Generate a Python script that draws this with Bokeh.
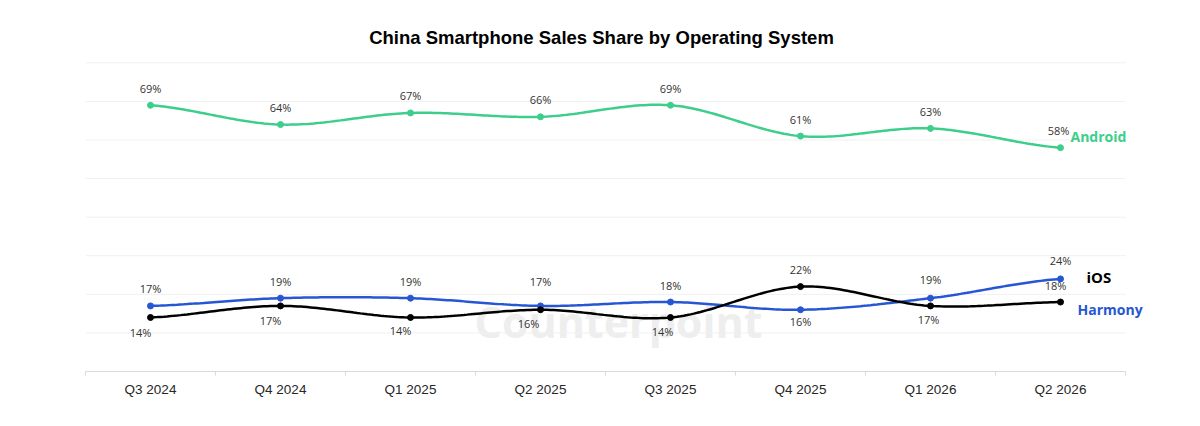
import numpy as np
from bokeh.plotting import figure
from bokeh.models import (ColumnDataSource, Range1d, FixedTicker, LabelSet, Label)
from bokeh.core.properties import value
from bokeh.embed import file_html
from bokeh.resources import INLINE

# ---- data ----
quarters = ["Q3 2024", "Q4 2024", "Q1 2025", "Q2 2025", "Q3 2025", "Q4 2025", "Q1 2026", "Q2 2026"]
android = [69, 64, 67, 66, 69, 61, 63, 58]
harmony = [17, 19, 19, 17, 18, 16, 19, 24]
ios = [14, 17, 14, 16, 14, 22, 17, 18]
grid_values = [10, 20, 30, 40, 50, 60, 70, 80]

title_text = "China Smartphone Sales Share by Operating System"

# ---- styles ----
GREEN = "#3dce8c"
BLUE = "#2656d4"
BLACK = "#000000"
LABEL_FONT = "Open Sans"

W, H = 1200, 426
LEFT, BOTTOM = 85, 55          # borders (px)
CAT_PX = 130                   # px per category
UNIT_PX = 308.7 / 80           # px per percentage point

# label offsets (pixels) per point: positive = up / right
android_dy = [17] * 8
android_dx = [0, 0, 0, 0, 0, 0, 0, -2]
harmony_dy = [17, 17, 17, 24, 17, -12, 19, 18]
harmony_dx = [0, 0, 0, 0, 0, 0, 0, 0]
ios_dy = [-15, -15, -13, -14, -14, 17, -14, 17]
ios_dx = [-10, -10, -10, -12, -8, 0, -2, -5]

n = len(quarters)
xs = np.arange(n) + 0.5


def smooth(x, y, k=40):
    """Catmull-Rom spline through the points (for drawing the smoothed line)."""
    x = np.asarray(x, float)
    y = np.asarray(y, float)
    px = np.concatenate([[2 * x[0] - x[1]], x, [2 * x[-1] - x[-2]]])
    py = np.concatenate([[y[0]], y, [y[-1]]])
    ox, oy = [], []
    t = np.linspace(0, 1, k)
    b0 = (1 - t) ** 3
    b1 = 3 * (1 - t) ** 2 * t
    b2 = 3 * (1 - t) * t ** 2
    b3 = t ** 3
    for i in range(1, len(px) - 2):
        c1x, c1y = px[i] + (px[i + 1] - px[i - 1]) / 6, py[i] + (py[i + 1] - py[i - 1]) / 6
        c2x, c2y = px[i + 1] - (px[i + 2] - px[i]) / 6, py[i + 1] - (py[i + 2] - py[i]) / 6
        ox.extend(b0 * px[i] + b1 * c1x + b2 * c2x + b3 * px[i + 1])
        oy.extend(b0 * py[i] + b1 * c1y + b2 * c2y + b3 * py[i + 1])
    return ox, oy


x_max = (W - LEFT) / CAT_PX
y_max = (H - BOTTOM) / UNIT_PX

p = figure(width=W, height=H, output_backend="svg", toolbar_location=None,
           x_range=Range1d(0, x_max), y_range=Range1d(0, y_max),
           y_axis_location=None, min_border_left=LEFT, min_border_right=0,
           min_border_top=0, min_border_bottom=BOTTOM)
p.outline_line_color = None
p.background_fill_color = "white"
p.border_fill_color = "white"
p.xgrid.visible = False
p.ygrid.visible = False

# horizontal gridlines spanning the category area
p.segment(x0=0, x1=n, y0=grid_values, y1=grid_values, line_color="#f0f0f0", line_width=1)

ax = p.xaxis[0]
ax.bounds = (0, n)
ax.ticker = FixedTicker(ticks=list(xs), minor_ticks=list(range(0, n + 1)))
ax.major_label_overrides = {float(x): q for x, q in zip(xs, quarters)}
ax.major_tick_line_color = None
ax.major_tick_out = 0
ax.major_tick_in = 0
ax.minor_tick_out = 4
ax.minor_tick_in = 0
ax.minor_tick_line_color = "#d9d9d9"
ax.axis_line_color = "#d9d9d9"
ax.axis_line_width = 1
ax.major_label_text_font = "Liberation Sans"
ax.major_label_text_font_size = "13.5px"
ax.major_label_text_color = "#262626"
ax.major_label_standoff = 6

# watermark
p.add_layout(Label(x=4.1, y=13.0, text="Counterpoint", text_font="Open Sans", text_font_style="bold",
                   text_font_size="43px", text_color="#eeeeee", text_align="center",
                   text_baseline="middle", level="underlay"))

series = [
    (android, GREEN, android_dx, android_dy),
    (harmony, BLUE, harmony_dx, harmony_dy),
    (ios, BLACK, ios_dx, ios_dy),
]
for vals, col, dx, dy in series:
    sx, sy = smooth(xs, vals)
    p.line(sx, sy, line_color=col, line_width=2.5)
    src = ColumnDataSource(dict(x=xs, y=vals, t=[f"{v}%" for v in vals], dx=dx, dy=dy))
    p.scatter("x", "y", source=src, size=6, color=col)
    p.add_layout(LabelSet(x="x", y="y", text="t", source=src, x_offset="dx", y_offset="dy",
                          text_align="center", text_baseline="middle",
                          text_font=value(LABEL_FONT), text_font_size=value("11px"),
                          text_color="#333333"))

# series names
name_style = dict(text_font=LABEL_FONT, text_font_style="bold",
                  text_align="left", text_baseline="middle")
p.add_layout(Label(x=xs[-1], y=android[-1], text="Android", x_offset=10, y_offset=11,
                   text_color=GREEN, text_font_size="14px", **name_style))
p.add_layout(Label(x=xs[-1], y=ios[-1], text="iOS", x_offset=26, y_offset=25,
                   text_color=BLACK, text_font_size="15px", **name_style))
p.add_layout(Label(x=xs[-1], y=harmony[-1], text="Harmony", x_offset=17, y_offset=-31,
                   text_color=BLUE, text_font_size="14px", **name_style))

# title
p.add_layout(Label(x=n / 2, y=y_max, text=title_text, x_offset=-4, y_offset=-36.5,
                   text_font="Liberation Sans", text_font_style="bold", text_font_size="18.5px",
                   text_color="#000000", text_align="center", text_baseline="middle"))

open("out.html", "w").write(file_html(p, INLINE))
